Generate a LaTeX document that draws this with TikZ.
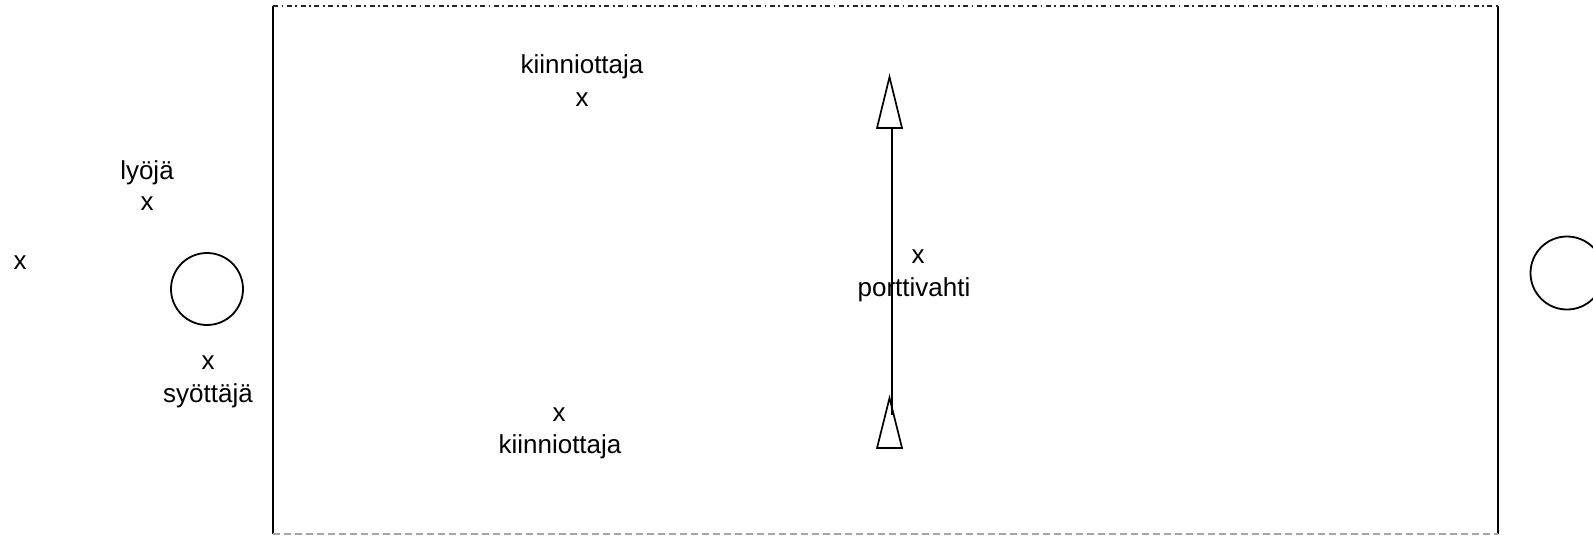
\documentclass[tikz,border=0pt]{standalone}
\usepackage{fontspec}
\setmainfont{Liberation Sans}
\begin{document}
\begin{tikzpicture}[x=1pt,y=-1pt,
  lbl/.style={inner sep=0pt,font=\fontsize{26}{30}\selectfont},
  base/.style={draw=black,line width=1.8pt},
  tipmark/.style={draw=black,line width=1.7pt,line join=miter}]
\useasboundingbox (0,0) rectangle (1593,536);
% field outline
\coordinate (tl) at (273,6);
\coordinate (tr) at (1498,6);
\coordinate (bl) at (273,534);
\coordinate (br) at (1498,534);
\draw[line width=2pt] (tl) -- (bl);
\draw[line width=2pt] (tr) -- (br);
\draw[line width=1.6pt,black!85,dash pattern=on 5pt off 3.5pt on 1.8pt off 3.5pt] (tl) -- (tr);
\draw[line width=1.6pt,black!35,dash pattern=on 7pt off 4pt] (bl) -- (br);
% bases
\node[base,circle,minimum size=72pt,inner sep=0pt] (homebase) at (207,289) {};
\node[base,circle,minimum size=73pt,inner sep=0pt] (farbase) at (1567,273) {};
% players
\node[lbl] (catcherAlbl) at (582,67) {kiinniottaja};
\node[lbl] (catcherA) at (582,100) {x};
\node[lbl] (batterlbl) at (147,173) {lyöjä};
\node[lbl] (batter) at (147,204) {x};
\node[lbl] (waiting) at (20,263) {x};
\node[lbl] (pitcher) at (208,363) {x};
\node[lbl] (pitcherlbl) at (208,396) {syöttäjä};
\node[lbl] (catcherB) at (559,415) {x};
\node[lbl] (catcherBlbl) at (560,447) {kiinniottaja};
\node[lbl] (keeper) at (918,257) {x};
\node[lbl] (keeperlbl) at (914,290) {porttivahti};
% run line with open triangle heads
\coordinate (runtop) at (892,128);
\coordinate (runbot) at (892,415);
\draw[line width=2.6pt] (runtop) -- (runbot);
\draw[tipmark,fill=white] (889.5,77) -- (902,128) -- (877,128) -- cycle;
\draw[tipmark] (889.5,398) -- (902,448) -- (877,448) -- cycle;
\end{tikzpicture}
\end{document}
